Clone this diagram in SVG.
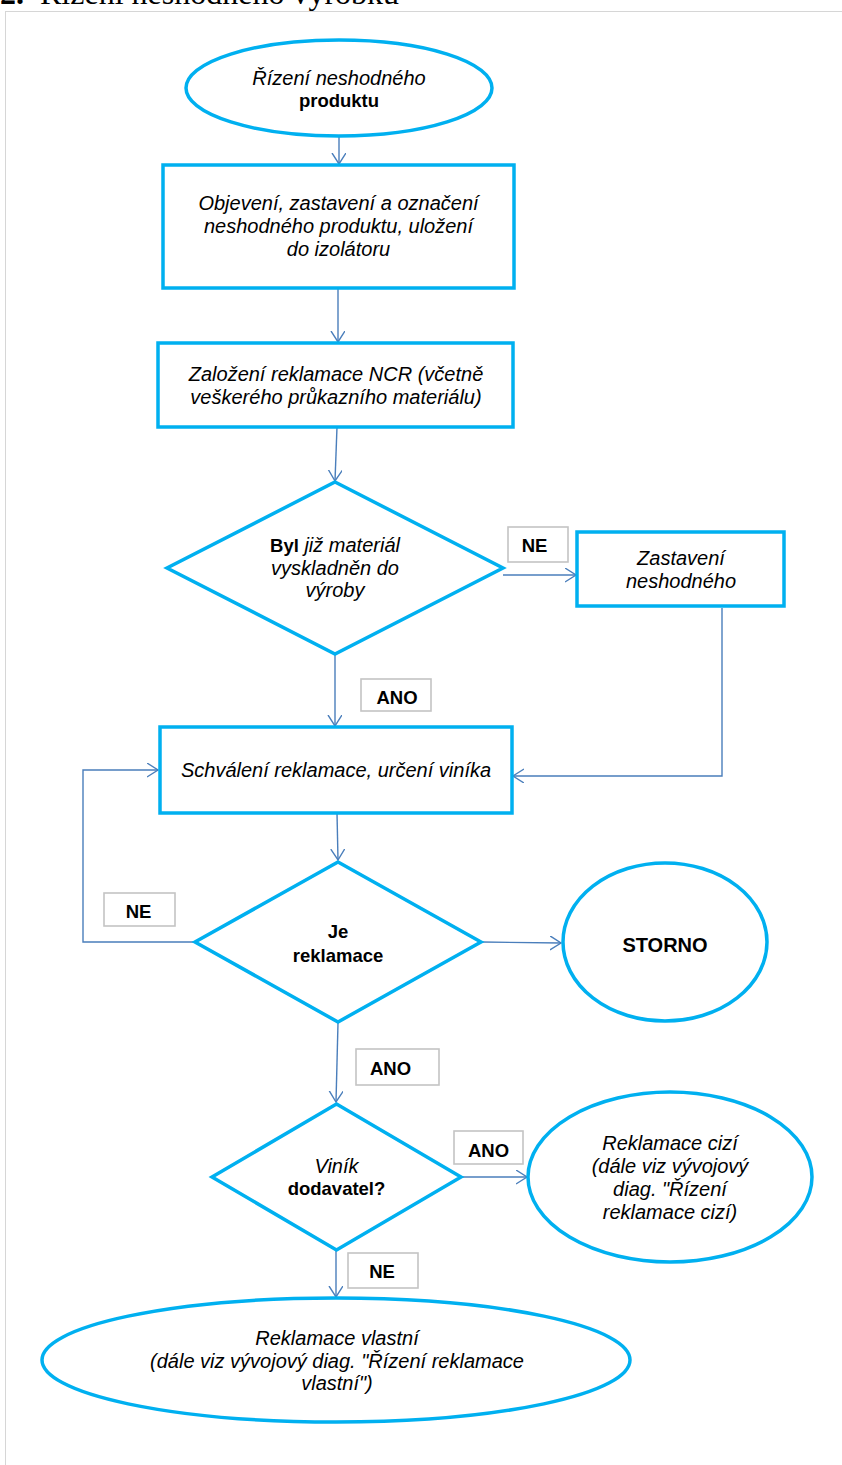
<svg xmlns="http://www.w3.org/2000/svg" width="842" height="1465" viewBox="0 0 842 1465">
  <defs>
    <marker id="arrow" markerUnits="userSpaceOnUse" markerWidth="14" markerHeight="16" refX="11" refY="7" orient="auto">
      <path d="M0,0 L11,7 L0,14" fill="none" stroke="#4a7ebb" stroke-width="1.4"/>
    </marker>
    <style>
      .node { fill: #ffffff; stroke: #00b0f0; stroke-width: 3.5; }
      .conn { fill: none; stroke: #4a7ebb; stroke-width: 1.4; marker-end: url(#arrow); }
      .line { fill: none; stroke: #4a7ebb; stroke-width: 1.4; }
      .lbox { fill: #ffffff; stroke: #c4c4c4; stroke-width: 1.6; }
      .t { font-family: "Liberation Sans", Arial, sans-serif; font-size: 20px; font-style: italic; fill: #000; text-anchor: middle; }
      .b { font-family: "Liberation Sans", Arial, sans-serif; font-size: 18.5px; font-weight: bold; fill: #000; text-anchor: middle; }
      .bi { font-style: normal; font-weight: bold; font-size: 18.5px; }
      .frame { fill: none; stroke: #d6d6d6; stroke-width: 1; }
      .title { font-family: "Liberation Serif", "Times New Roman", serif; font-size: 32px; fill: #000; }
    </style>
  </defs>

  <rect width="842" height="1465" fill="#ffffff"/>

  <!-- page heading, clipped by the top of the sheet -->
  <text class="title" y="4"><tspan x="-16" font-weight="bold">12.</tspan><tspan x="40">Řízení neshodného výrobku</tspan></text>
  <!-- page frame -->
  <rect class="frame" x="5.5" y="11.5" width="850" height="1470"/>

  <!-- connectors -->
  <g id="connectors">
    <path class="conn" d="M339,137 L339,164"/>
    <path class="conn" d="M338,288 L338,342"/>
    <path class="conn" d="M337,427 L335,481"/>
    <path class="conn" d="M503,575 L576,575"/>
    <path class="conn" d="M722,608 L722,776 L513,776"/>
    <path class="conn" d="M335,655 L335,726"/>
    <path class="conn" d="M337,813 L338,860"/>
    <path class="conn" d="M195,942 L83,942 L83,770 L158,770"/>
    <path class="conn" d="M482,942 L561,943"/>
    <path class="conn" d="M338,1023 L336,1102"/>
    <path class="conn" d="M461,1177 L527,1177"/>
    <path class="conn" d="M336,1250 L336,1297"/>
  </g>

  <!-- start -->
  <g id="start">
    <ellipse class="node" cx="339" cy="88" rx="153" ry="48"/>
    <text class="t" x="339" y="85">Řízení neshodného</text>
    <text class="b" x="339" y="107">produktu</text>
  </g>

  <g id="discover">
    <rect class="node" x="163" y="165" width="351" height="123"/>
    <text class="t" x="338.5" y="210">Objevení, zastavení a označení</text>
    <text class="t" x="338.5" y="233">neshodného produktu, uložení</text>
    <text class="t" x="338.5" y="256">do izolátoru</text>
  </g>

  <g id="ncr">
    <rect class="node" x="158" y="343" width="355" height="84"/>
    <text class="t" x="336" y="381">Založení reklamace NCR (včetně</text>
    <text class="t" x="336" y="404">veškerého průkazního materiálu)</text>
  </g>

  <g id="issued">
    <polygon class="node" points="335,482 503,568 335,654 167,568"/>
    <text class="t" x="335" y="552"><tspan class="bi">Byl</tspan> již materiál</text>
    <text class="t" x="335" y="575">vyskladněn do</text>
    <text class="t" x="335" y="597">výroby</text>
  </g>

  <g id="label-ne-1">
    <rect class="lbox" x="508" y="527" width="60" height="35"/>
    <text class="b" x="534.5" y="552">NE</text>
  </g>

  <g id="stop">
    <rect class="node" x="577" y="532" width="207" height="74"/>
    <text class="t" x="681" y="565">Zastavení</text>
    <text class="t" x="681" y="588">neshodného</text>
  </g>

  <g id="label-ano-1">
    <rect class="lbox" x="361" y="679" width="70" height="32"/>
    <text class="b" x="397" y="704">ANO</text>
  </g>

  <g id="approve">
    <rect class="node" x="160" y="727" width="352" height="86"/>
    <text class="t" x="336" y="777">Schválení reklamace, určení viníka</text>
  </g>

  <g id="is-claim">
    <polygon class="node" points="338,862 481,942 338,1022 195,942"/>
    <text class="b" x="338" y="938">Je</text>
    <text class="b" x="338" y="962">reklamace</text>
  </g>

  <g id="label-ne-2">
    <rect class="lbox" x="104" y="893" width="71" height="33"/>
    <text class="b" x="138.5" y="918">NE</text>
  </g>

  <g id="storno">
    <ellipse class="node" cx="665" cy="942" rx="102" ry="79"/>
    <text class="b" x="665" y="952" style="font-size:20px">STORNO</text>
  </g>

  <g id="label-ano-2">
    <rect class="lbox" x="356" y="1049" width="83" height="36"/>
    <text class="b" x="390.5" y="1075">ANO</text>
  </g>

  <g id="supplier">
    <polygon class="node" points="336.5,1104 461,1177 336.5,1250 212,1177"/>
    <text class="t" x="336.5" y="1173">Viník</text>
    <text class="b" x="336.5" y="1195">dodavatel?</text>
  </g>

  <g id="label-ano-3">
    <rect class="lbox" x="454" y="1131" width="69" height="33"/>
    <text class="b" x="488.5" y="1157">ANO</text>
  </g>

  <g id="external">
    <ellipse class="node" cx="670" cy="1177" rx="142" ry="85"/>
    <text class="t" x="670" y="1150">Reklamace cizí</text>
    <text class="t" x="670" y="1173">(dále viz vývojový</text>
    <text class="t" x="670" y="1196">diag. "Řízení</text>
    <text class="t" x="670" y="1219">reklamace cizí)</text>
  </g>

  <g id="label-ne-3">
    <rect class="lbox" x="348" y="1253" width="70" height="35"/>
    <text class="b" x="382" y="1278">NE</text>
  </g>

  <g id="internal">
    <ellipse class="node" cx="336" cy="1360" rx="294" ry="62"/>
    <text class="t" x="337" y="1345">Reklamace vlastní</text>
    <text class="t" x="337" y="1368">(dále viz vývojový diag. "Řízení reklamace</text>
    <text class="t" x="337" y="1390">vlastní")</text>
  </g>
</svg>
